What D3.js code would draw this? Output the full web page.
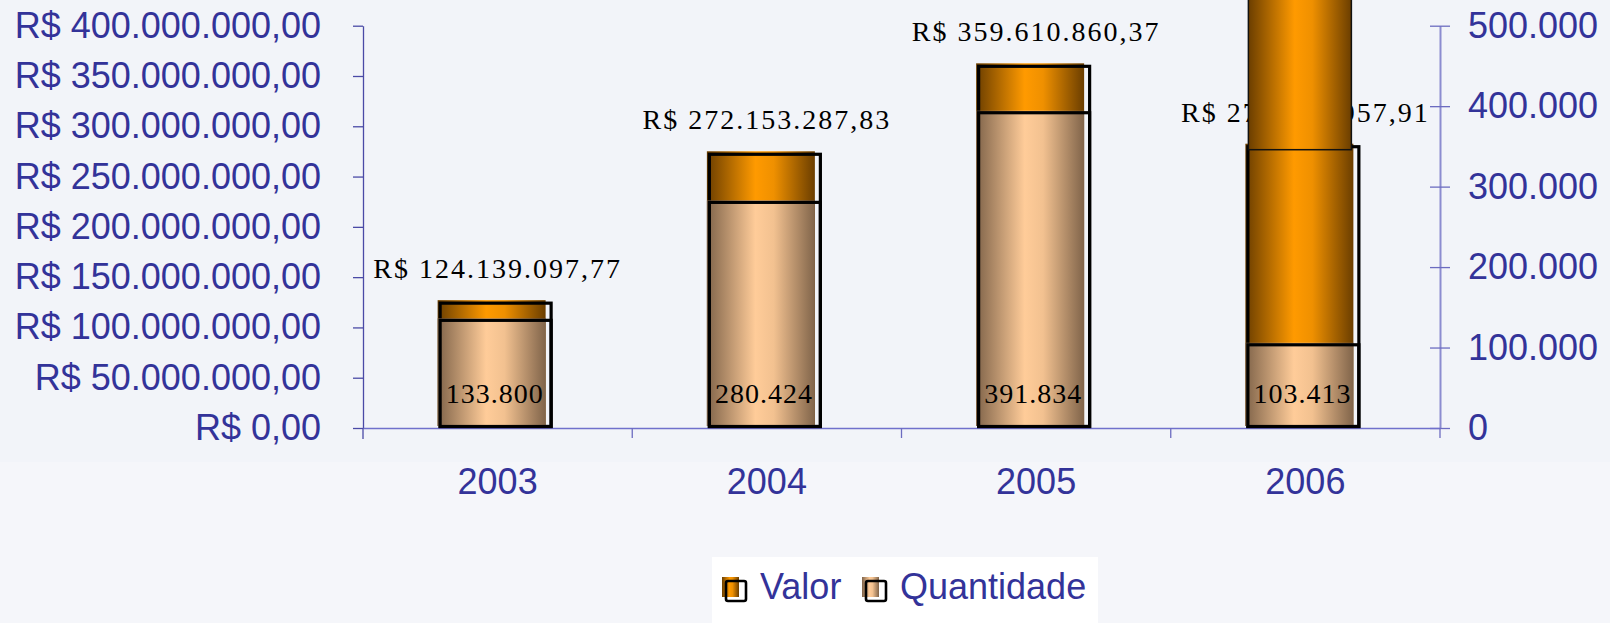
<!DOCTYPE html>
<html>
<head>
<meta charset="utf-8">
<script src="https://cdn.jsdelivr.net/npm/d3@7"></script>
<style>
  html, body { margin: 0; padding: 0; background: #f3f4f9; }
  svg { display: block; }
</style>
</head>
<body>
<svg id="chart" width="1610" height="623"></svg>
<script>
// dados
const anos = ["2003", "2004", "2005", "2006"];
const valor = [124139097.77, 272153287.83, 359610860.37, 279689957.91];
const quantidade = [133800, 280424, 391834, 103413];
// the 2006 Valor bar spills over the top of the plot in the original
const valorTopo = [null, null, null, 440000000];
const valorTicks = [0, 50e6, 100e6, 150e6, 200e6, 250e6, 300e6, 350e6, 400e6];
const quantidadeTicks = [0, 100000, 200000, 300000, 400000, 500000];

const ptBR = d3.formatLocale({ decimal: ",", thousands: ".", grouping: [3], currency: ["R$ ", ""] });
const fmtReal = ptBR.format("$,.2f");
const fmtQtd = ptBR.format(",.0f");

const plotLeft = 363, plotRight = 1440, plotTop = 25.7, base = 428;
const sans = "'Liberation Sans', Arial, Helvetica, sans-serif";
const serif = "'Liberation Serif', 'Times New Roman', serif";
const axisBlue = "#333399";

const svg = d3.select("#chart");

svg.append("rect").attr("width", 1610).attr("height", 462).attr("fill", "#f2f4f9");
svg.append("rect").attr("y", 462).attr("width", 1610).attr("height", 161).attr("fill", "#f5f6fa");

const defs = svg.append("defs");
function grad(id, edge, mid, mid2) {
  const g = defs.append("linearGradient").attr("id", id).attr("x1", 0).attr("x2", 1).attr("y1", 0).attr("y2", 0);
  g.append("stop").attr("offset", "0%").attr("stop-color", edge);
  g.append("stop").attr("offset", "45%").attr("stop-color", mid);
  g.append("stop").attr("offset", "62%").attr("stop-color", mid2);
  g.append("stop").attr("offset", "100%").attr("stop-color", edge);
}
grad("gValor", "#6b3e00", "#ff9a00", "#ef9000");
grad("gQtd", "#80644a", "#ffcc99", "#f2c190");

const x = d3.scaleBand().domain(anos).range([plotLeft, plotRight]);
const yL = d3.scaleLinear().domain([0, 400e6]).range([base, plotTop]);
const yR = d3.scaleLinear().domain([0, 500000]).range([base, plotTop]);
const cx = (d) => x(d) + x.bandwidth() / 2;

// eixos
const axL = svg.append("g").attr("transform", `translate(${plotLeft},0)`)
  .call(d3.axisLeft(yL).tickValues(valorTicks).tickSize(10).tickSizeOuter(0).tickPadding(32).tickFormat(fmtReal));
axL.select(".domain").attr("stroke", "#4a4aa6").attr("stroke-width", 1.3);
axL.selectAll(".tick line").attr("stroke", "#4a4aa6").attr("stroke-width", 1.3);
axL.selectAll("text").attr("font-family", sans).attr("font-size", 36).attr("fill", axisBlue);

const axR = svg.append("g").attr("transform", `translate(${plotRight},0)`)
  .call(d3.axisRight(yR).tickValues(quantidadeTicks).tickSize(10).tickSizeOuter(0).tickPadding(18).tickFormat(fmtQtd));
axR.select(".domain").attr("stroke", "#8c8cd0").attr("stroke-width", 2);
axR.selectAll(".tick line").attr("x1", -10).attr("stroke", "#6c6cc0").attr("stroke-width", 1.3);
axR.selectAll("text").attr("font-family", sans).attr("font-size", 36).attr("fill", axisBlue);

const axB = svg.append("g").attr("transform", `translate(0,${base})`)
  .call(d3.axisBottom(x).tickSize(0).tickPadding(40));
axB.select(".domain").attr("stroke", "#7070cc").attr("stroke-width", 1.5);
axB.selectAll("text").attr("font-family", sans).attr("font-size", 36).attr("fill", axisBlue);
svg.append("g").selectAll("line")
  .data(anos)
  .join("line")
  .attr("x1", (d) => x(d) + x.bandwidth())
  .attr("x2", (d) => x(d) + x.bandwidth())
  .attr("y1", base).attr("y2", base + 10)
  .attr("stroke", "#6c6cc0").attr("stroke-width", 1.3);
svg.append("line").attr("x1", plotLeft).attr("x2", plotLeft).attr("y1", base).attr("y2", base + 11)
  .attr("stroke", "#4a4aa6").attr("stroke-width", 1.3);

const bars = svg.append("g");

// Valor (eixo esquerdo)
bars.selectAll(".valor-fill").data(anos).join("rect").attr("class", "valor-fill")
  .attr("x", (d) => cx(d) - 60).attr("width", 108)
  .attr("y", (d, i) => yL(valor[i]) - 3)
  .attr("height", (d, i) => base - 2 - (yL(valor[i]) - 3))
  .attr("fill", "url(#gValor)");
bars.selectAll(".valor-line").data(anos).join("rect").attr("class", "valor-line")
  .attr("x", (d) => cx(d) - 57.5).attr("width", 111)
  .attr("y", (d, i) => yL(valor[i]))
  .attr("height", (d, i) => base - 1.5 - yL(valor[i]))
  .attr("fill", "none").attr("stroke", "#000").attr("stroke-width", 3.2);

// Quantidade (eixo direito)
bars.selectAll(".qtd-fill").data(anos).join("rect").attr("class", "qtd-fill")
  .attr("x", (d) => cx(d) - 60).attr("width", 108)
  .attr("y", (d, i) => yR(quantidade[i]) - 2)
  .attr("height", (d, i) => base - 2 - (yR(quantidade[i]) - 2))
  .attr("fill", "url(#gQtd)");
bars.selectAll(".qtd-line").data(anos).join("rect").attr("class", "qtd-line")
  .attr("x", (d) => cx(d) - 57.5).attr("width", 111)
  .attr("y", (d, i) => yR(quantidade[i]))
  .attr("height", (d, i) => base - 1.5 - yR(quantidade[i]))
  .attr("fill", "none").attr("stroke", "#000").attr("stroke-width", 3.2);

// rótulos
svg.append("g").selectAll("text").data(anos).join("text")
  .attr("x", (d) => cx(d))
  .attr("y", (d, i) => yL(valor[i]) - 25)
  .attr("text-anchor", "middle")
  .attr("font-family", serif).attr("font-size", 28).attr("letter-spacing", 2)
  .attr("fill", "#000")
  .text((d, i) => fmtReal(valor[i]));

svg.append("g").selectAll("text").data(anos).join("text")
  .attr("x", (d) => cx(d) - 3)
  .attr("y", base - 25)
  .attr("text-anchor", "middle")
  .attr("font-family", serif).attr("font-size", 28).attr("letter-spacing", 1)
  .attr("fill", "#000")
  .text((d, i) => fmtQtd(quantidade[i]));

// overflow piece of the 2006 Valor bar, covers its label
svg.append("g").selectAll("rect")
  .data(anos.filter((d, i) => valorTopo[i] != null))
  .join("rect")
  .attr("x", (d) => cx(d) - 57).attr("width", 103)
  .attr("y", (d) => yL(valorTopo[anos.indexOf(d)]))
  .attr("height", (d) => yL(valor[anos.indexOf(d)]) + 3 - yL(valorTopo[anos.indexOf(d)]))
  .attr("fill", "url(#gValor)").attr("stroke", "#111").attr("stroke-width", 1.5);

// legenda
const lg = svg.append("g");
lg.append("rect").attr("x", 712).attr("y", 557).attr("width", 386).attr("height", 70).attr("fill", "#ffffff");
const itens = [
  { nome: "Valor", grad: "url(#gValor)", x: 722 },
  { nome: "Quantidade", grad: "url(#gQtd)", x: 862 }
];
itens.forEach((it) => {
  lg.append("rect").attr("x", it.x).attr("y", 577).attr("width", 17).attr("height", 20).attr("fill", it.grad);
  lg.append("rect").attr("x", it.x + 4).attr("y", 581).attr("width", 20).attr("height", 20)
    .attr("rx", 2).attr("fill", "none").attr("stroke", "#000").attr("stroke-width", 2.6);
  lg.append("text").attr("x", it.x + 38).attr("y", 599)
    .attr("font-family", sans).attr("font-size", 36).attr("fill", axisBlue).text(it.nome);
});
</script>
</body>
</html>
